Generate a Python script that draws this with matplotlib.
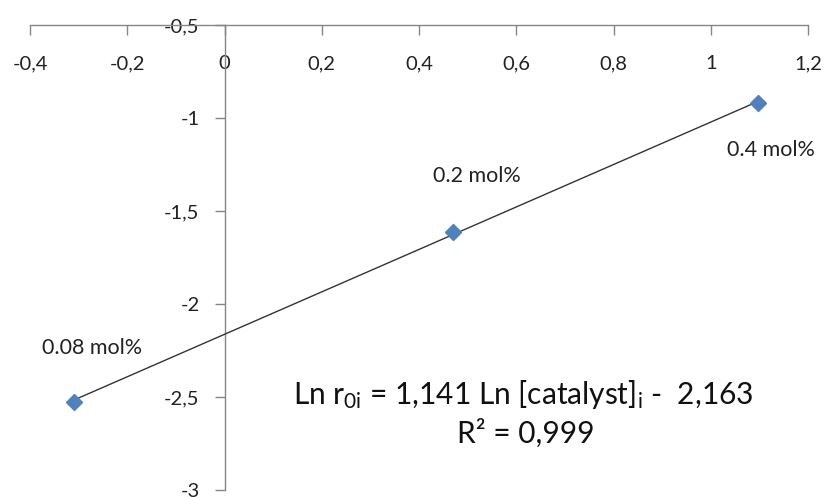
import matplotlib
matplotlib.use("Agg")
import matplotlib.pyplot as plt
import numpy as np

plt.rcParams['font.family'] = ['Lato', 'DejaVu Sans']
plt.rcParams['mathtext.fontset'] = 'custom'
plt.rcParams['mathtext.rm'] = 'Lato'
plt.rcParams['mathtext.it'] = 'Lato:italic'

# data
ln_cat = [-0.31, 0.47, 1.097]
ln_r0 = [-2.527, -1.613, -0.919]
point_labels = ["0.08 mol%", "0.2 mol%", "0.4 mol%"]
slope, intercept = 1.141, -2.163
x_ticks = [-0.4, -0.2, 0, 0.2, 0.4, 0.6, 0.8, 1, 1.2]
x_tick_labels = ["-0,4", "-0,2", "0", "0,2", "0,4", "0,6", "0,8", "1", "1,2"]
y_ticks = [-3, -2.5, -2, -1.5, -1, -0.5]
y_tick_labels = ["-3", "-2,5", "-2", "-1,5", "-1", "-0,5"]

fig = plt.figure(figsize=(8.25, 4.98), dpi=100)
ax = fig.add_axes([30/825, 1-490/498, (808-30)/825, (490-25)/498])
ax.set_xlim(-0.4, 1.2)
ax.set_ylim(-3, -0.5)

axis_color = '#868686'
for s in ['bottom', 'right']:
    ax.spines[s].set_visible(False)
ax.spines['left'].set_position(('data', 0))
ax.spines['left'].set_color(axis_color)
ax.spines['top'].set_color(axis_color)
ax.spines['left'].set_linewidth(1)
ax.spines['top'].set_linewidth(1)

ax.xaxis.set_ticks_position('top')
ax.set_xticks(x_ticks)
ax.set_xticklabels(x_tick_labels)
ax.tick_params(axis='x', direction='in', length=7, width=1, color=axis_color,
               labelsize=14.5, pad=-34, labelcolor='#222222')
ax.set_yticks(y_ticks)
ax.set_yticklabels(y_tick_labels)
ax.tick_params(axis='y', direction='out', length=7, width=1, color=axis_color,
               labelsize=14.5, pad=11, labelcolor='#222222')
for lbl in ax.get_yticklabels():
    lbl.set_zorder(5)

# trend line
xl = np.array([min(ln_cat), max(ln_cat)])
ax.plot(xl, slope*xl + intercept, color='#333333', lw=1.0, zorder=3)
ax.plot(ln_cat, ln_r0, linestyle='none', marker='D', markersize=8.5,
        color='#4F81BD', markeredgecolor='#4F81BD', zorder=4)

offsets = [(18, 54), (24, 56), (13, -47)]
for x, y, t, off in zip(ln_cat, ln_r0, point_labels, offsets):
    ax.annotate(t, (x, y), xytext=off, textcoords='offset pixels',
                ha='center', va='center', fontsize=15.5, color='#222222')

ax.text(0.614, -2.489, r"Ln r$_{\mathrm{0i}}$ = 1,141 Ln [catalyst]$_{\mathrm{i}}$ -  2,163",
        ha='center', va='center', fontsize=21.5, color='#111111')
ax.text(0.62, -2.694, "R² = 0,999", ha='center', va='center', fontsize=21.5, color='#111111')

fig.savefig("out.png", dpi=100)
